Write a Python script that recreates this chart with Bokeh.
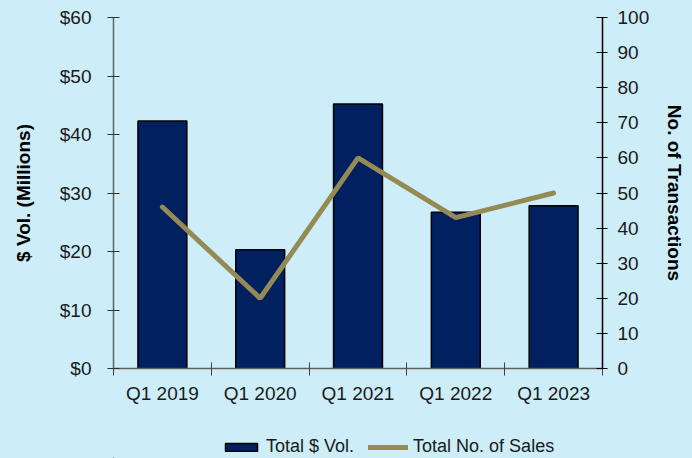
from bokeh.plotting import figure
from bokeh.layouts import column
from bokeh.models import (Range1d, LinearAxis, FixedTicker, Legend, LegendItem,
                          NumeralTickFormatter)
from bokeh.embed import file_html
from bokeh.resources import INLINE

categories = ["Q1 2019", "Q1 2020", "Q1 2021", "Q1 2022", "Q1 2023"]
volumes = [42.3, 20.3, 45.2, 26.7, 27.8]
sales = [46, 20, 60, 43, 50]
left_ticks = [0, 10, 20, 30, 40, 50, 60]
right_ticks = [0, 10, 20, 30, 40, 50, 60, 70, 80, 90, 100]
series_names = ["Total $ Vol.", "Total No. of Sales"]

BG = "#CDEDF8"
BAR = "#002060"
LINE = "#948A54"
FONT = "Liberation Sans"

n = len(categories)
centers = [i + 0.5 for i in range(n)]
bounds = [float(i) for i in range(n + 1)]

p = figure(width=692, height=434, output_backend="svg", toolbar_location=None,
           x_range=Range1d(0, n), y_range=Range1d(0, 60),
           min_border_left=113, min_border_right=90, min_border_top=17,
           min_border_bottom=66, x_axis_location=None, y_axis_location=None)
p.background_fill_color = BG
p.border_fill_color = BG
p.outline_line_color = None
p.xgrid.visible = False
p.ygrid.visible = False
p.extra_y_ranges = {"n": Range1d(0, 100)}

bars = p.vbar(x=centers, top=volumes, width=0.5, fill_color=BAR,
              line_color="black", line_width=1.5)
line = p.line(x=centers, y=sales, y_range_name="n", line_width=5,
              line_color=LINE, line_cap="round")

# bottom axis
xa = LinearAxis(ticker=FixedTicker(ticks=centers, minor_ticks=bounds))
xa.major_label_overrides = {c: lab for c, lab in zip(centers, categories)}
xa.major_tick_line_color = None
xa.minor_tick_in = 6
xa.minor_tick_out = 7
xa.minor_tick_line_color = "#404040"
xa.axis_line_color = "#606060"
xa.axis_line_width = 1.5
xa.major_label_text_font = FONT
xa.major_label_text_font_size = "19px"
xa.major_label_text_color = "#1a1a1a"
xa.major_label_standoff = 7
p.add_layout(xa, "below")

# left axis
ya = LinearAxis(ticker=FixedTicker(ticks=left_ticks, minor_ticks=[]),
                formatter=NumeralTickFormatter(format="$0"),
                axis_label="$ Vol. (Millions)")
ya.major_tick_in = 6
ya.major_tick_out = 6
ya.major_tick_line_color = "#303030"
ya.axis_line_color = "#606060"
ya.axis_line_width = 1.5
ya.major_label_text_font = FONT
ya.major_label_text_font_size = "19px"
ya.major_label_text_color = "#1a1a1a"
ya.major_label_standoff = 16
ya.axis_label_text_font = FONT
ya.axis_label_text_font_size = "19px"
ya.axis_label_text_font_style = "bold"
ya.axis_label_text_color = "#000000"
ya.axis_label_standoff = 23
p.add_layout(ya, "left")

# right axis
ra = LinearAxis(y_range_name="n",
                ticker=FixedTicker(ticks=right_ticks, minor_ticks=[]),
                axis_label="No. of Transactions")
ra.major_tick_in = 6
ra.major_tick_out = 5
ra.major_tick_line_color = "#000000"
ra.axis_line_color = "#000000"
ra.axis_line_width = 1.5
ra.major_label_text_font = FONT
ra.major_label_text_font_size = "19px"
ra.major_label_text_color = "#1a1a1a"
ra.major_label_standoff = 10
ra.axis_label_text_font = FONT
ra.axis_label_text_font_size = "19px"
ra.axis_label_text_font_style = "bold"
ra.axis_label_text_color = "#000000"
ra.axis_label_standoff = 12
p.add_layout(ra, "right")

# legend strip below the chart (same frame edges as the chart);
# its ranges lie beyond the data, so only the legend swatches show
lg = figure(width=692, height=24, output_backend="svg", toolbar_location=None,
            x_range=Range1d(n + 1, n + 2), y_range=Range1d(200, 201),
            min_border_left=113, min_border_right=90, min_border_top=0,
            min_border_bottom=0, x_axis_location=None, y_axis_location=None)
lg.background_fill_color = BG
lg.border_fill_color = BG
lg.outline_line_color = None
lg.xgrid.visible = False
lg.ygrid.visible = False
lbar = lg.vbar(x=centers, top=volumes, width=0.5, fill_color=BAR,
               line_color="black", line_width=1.5)
lline = lg.line(x=centers, y=sales, line_width=5, line_color=LINE,
                line_cap="round")

legend = Legend(items=[LegendItem(label=series_names[0], renderers=[lbar]),
                       LegendItem(label=series_names[1], renderers=[lline])],
                orientation="horizontal", location=(108, 1))
legend.glyph_width = 40
legend.glyph_height = 10
legend.label_standoff = 5
legend.spacing = 14
legend.padding = 0
legend.margin = 0
legend.label_text_font = FONT
legend.label_text_font_size = "18px"
legend.label_text_color = "#1a1a1a"
legend.background_fill_alpha = 0
legend.border_line_alpha = 0
lg.add_layout(legend, "center")

layout = column(p, lg, spacing=0)
layout.styles = {"background-color": BG}

html = file_html(layout, INLINE)
html = html.replace("<body>", '<body style="background:%s;">' % BG, 1)
open("out.html", "w").write(html)
